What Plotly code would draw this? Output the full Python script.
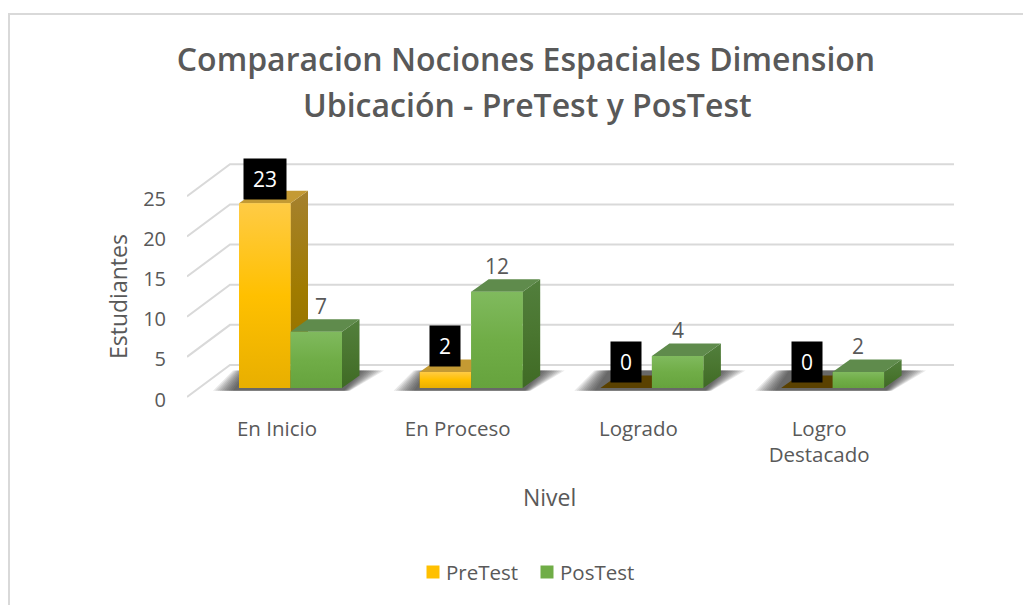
import plotly.graph_objects as go

CATEGORIES = ["En Inicio", "En Proceso", "Logrado", "Logro<br>Destacado"]
PRETEST = [23, 2, 0, 0]
POSTEST = [7, 12, 4, 2]
Y_TICKS = [0, 5, 10, 15, 20, 25]
SERIES_NAMES = ["PreTest", "PosTest"]
SERIES_COLORS = ["#FFC000", "#70AD47"]

TEXT_COLOR = "#595959"
GRID_COLOR = "#D9D9D9"
FONT = "Open Sans"

# the page body has an 8px margin, so the figure is 8px smaller and every
# pixel position below is shifted by PAGE
PAGE = 8
W, H = 1031 - PAGE, 605 - PAGE
BOX_L, BOX_R, BOX_T, BOX_B = 187, 954, 160, 404
PX_PER_CAT = 180.7
PX_PER_UNIT = 8.03
ZERO_X, ZERO_Y = 290.5, 388.0  # where category 0 / value 0 land


def dx(px):
    return px / PX_PER_CAT


def dy(px):
    return px / PX_PER_UNIT


def paper_x(px):
    return (px - BOX_L) / (BOX_R - BOX_L)


def paper_y(px):
    return (BOX_B - px) / (BOX_B - BOX_T)


x_range = [(BOX_L - ZERO_X) / PX_PER_CAT, (BOX_R - ZERO_X) / PX_PER_CAT]
y_range = [(ZERO_Y - BOX_B) / PX_PER_UNIT, (ZERO_Y - BOX_T) / PX_PER_UNIT]

BAR_W = dx(51.5)
DEPTH_X, DEPTH_Y = dx(17.5), dy(12.5)
# the axis wall sits behind the bars and its front edge below them
WALL_SHIFT = dy(23)
FRONT_SHIFT = dy(-9)
LABEL_SHIFT = dy(-11.5)
WALL_X = dx(230 - ZERO_X)


def poly(xs, ys, color=None, gradient=None):
    kw = dict(fillgradient=gradient) if gradient else dict(fillcolor=color)
    return go.Scatter(
        x=xs + xs[:1], y=ys + ys[:1],
        mode="lines", line=dict(width=0), fill="toself",
        hoverinfo="skip", showlegend=False, **kw,
    )


def vgrad(top, mid, bottom):
    return dict(type="vertical", colorscale=[[0, bottom], [0.5, mid], [1, top]])


def build_bar_faces(left, value, front, side, top, flat_top=None):
    right = left + BAR_W
    traces = [
        poly([right, right + DEPTH_X, right + DEPTH_X, right],
             [0, DEPTH_Y, value + DEPTH_Y, value], gradient=side),
        poly([left, right, right + DEPTH_X, left + DEPTH_X],
             [value, value, value + DEPTH_Y, value + DEPTH_Y],
             color=flat_top if value == 0 and flat_top else top),
    ]
    if value > 0:
        traces.append(poly([left, right, right, left], [0, 0, value, value], gradient=front))
    return traces


def panel_text(text, x, y, size, **kw):
    return dict(
        xref="paper", yref="paper", x=paper_x(x), y=paper_y(y),
        xanchor="center", yanchor="middle", text=text, showarrow=False,
        font=dict(family=FONT, size=size, color=TEXT_COLOR, **kw.pop("font", {})), **kw,
    )


fig = go.Figure()

fig.add_trace(go.Bar(x=list(range(4)), y=PRETEST, name=SERIES_NAMES[0], offset=-BAR_W, width=BAR_W,
                     marker=dict(color=SERIES_COLORS[0], line=dict(width=0)), hoverinfo="skip"))
fig.add_trace(go.Bar(x=list(range(4)), y=POSTEST, name=SERIES_NAMES[1], offset=0, width=BAR_W,
                     marker=dict(color=SERIES_COLORS[1], line=dict(width=0)), hoverinfo="skip"))

# gridlines on the back wall and the side wall
for t in Y_TICKS:
    fig.add_trace(go.Scatter(
        x=[x_range[0], WALL_X, x_range[1]],
        y=[t + FRONT_SHIFT, t + WALL_SHIFT, t + WALL_SHIFT],
        mode="lines", line=dict(color=GRID_COLOR, width=2),
        hoverinfo="skip", showlegend=False,
    ))

# floor shadow, stacked translucent layers fake the blur
for i in range(4):
    left, right = i - BAR_W, i + BAR_W
    for k in range(10):
        grow = (9 - k) / 9
        fig.add_trace(poly(
            [left - dx(6 + 20 * grow), left + dx(8 - 14 * grow), right + dx(20 + 22 * grow), right + dx(2 + 6 * grow)],
            [dy(-2.7), dy(17.5), dy(17.5), dy(-2.7)],
            color="rgba(30,30,30,0.1)",
        ))

PRE_FRONT = vgrad("#FFCB45", "#FFC000", "#E8AF00")
PRE_SIDE = vgrad("#A5812F", "#A07B00", "#8F6E00")
POST_FRONT = vgrad("#80BA5E", "#70AD47", "#66A33D")
POST_SIDE = vgrad("#527F3D", "#4A7630", "#3F6A24")

for i in range(4):
    fig.add_traces(build_bar_faces(i - BAR_W, PRETEST[i], PRE_FRONT, PRE_SIDE, "#C49A33", flat_top="#5A4100"))
    fig.add_traces(build_bar_faces(i, POSTEST[i], POST_FRONT, POST_SIDE, "#5F8B4C"))

annotations = []
for i in range(4):
    pre_label = str(PRETEST[i])
    annotations.append(dict(
        x=i - BAR_W / 2, y=PRETEST[i], yshift=24 if i == 0 else 26, text=pre_label, showarrow=False,
        font=dict(family=FONT, size=21, color="#FFFFFF"),
        bgcolor="#000000", width=16 + 12 * len(pre_label), height=38,
    ))
    annotations.append(dict(
        x=i + BAR_W / 2, y=POSTEST[i], yshift=26, xshift=5 if i == 0 else 0,
        text=str(POSTEST[i]), showarrow=False,
        font=dict(family=FONT, size=21, color=TEXT_COLOR),
    ))
annotations.append(panel_text("Estudiantes", 118, 297, 23, textangle=-90))
annotations.append(panel_text("Nivel", 549, 497, 23))
# second title line, plotly's own <br> spacing is too tight for this title
annotations.append(panel_text("Ubicación - PreTest y PosTest", 527, 104, 32, font=dict(weight=600)))

# legend sits closer to its swatches than plotly's legend allows
shapes = [dict(type="rect", xref="paper", yref="paper",
               x0=paper_x(PAGE + 1), x1=paper_x(1100), y0=paper_y(640), y1=paper_y(14),
               line=dict(color=GRID_COLOR, width=2), layer="below")]
for name, color, swatch_px, text_px in zip(SERIES_NAMES, SERIES_COLORS, [433, 547], [482, 597]):
    shapes.append(dict(type="rect", xref="paper", yref="paper",
                       x0=paper_x(swatch_px - 6.5), x1=paper_x(swatch_px + 6.5),
                       y0=paper_y(578.5), y1=paper_y(565.5),
                       fillcolor=color, line=dict(width=0)))
    annotations.append(panel_text(name, text_px, 572, 20.5))

fig.update_layout(
    width=W, height=H,
    margin=dict(l=BOX_L - PAGE, r=W + PAGE - BOX_R, t=BOX_T - PAGE, b=H + PAGE - BOX_B, autoexpand=False),
    paper_bgcolor="#FFFFFF", plot_bgcolor="rgba(0,0,0,0)",
    barmode="overlay", showlegend=False,
    title=dict(
        text="Comparacion Nociones Espaciales Dimension",
        x=(526 - PAGE) / W, xanchor="center", y=1 - (60 - PAGE) / H, yanchor="middle",
        font=dict(family=FONT, size=32, color=TEXT_COLOR, weight=600),
    ),
    xaxis=dict(
        range=x_range, showgrid=False, zeroline=False, showline=False,
        tickvals=[i - dx(13.5) for i in range(4)], ticktext=CATEGORIES,
        ticks="", ticklabelstandoff=10,
        tickfont=dict(family=FONT, size=20.5, color=TEXT_COLOR),
    ),
    yaxis=dict(
        range=y_range, showgrid=False, zeroline=False, showline=False,
        tickvals=[t + LABEL_SHIFT for t in Y_TICKS], ticktext=[str(t) for t in Y_TICKS],
        ticks="", ticklabelstandoff=20,
        tickfont=dict(family=FONT, size=20, color=TEXT_COLOR),
    ),
    annotations=annotations,
    shapes=shapes,
)

fig.write_html("out.html")
